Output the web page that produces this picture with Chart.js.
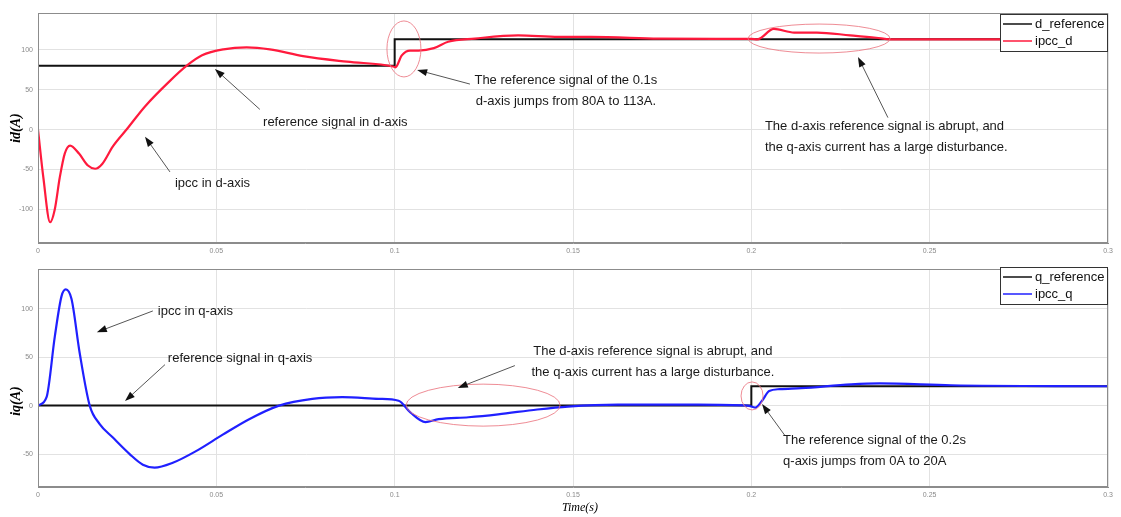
<!DOCTYPE html>
<html>
<head>
<meta charset="utf-8">
<script src="https://cdn.jsdelivr.net/npm/chart.js@4.4.0/dist/chart.umd.min.js"></script>
<style>
  html, body { margin: 0; padding: 0; background: #fff; }
  #wrap { position: relative; width: 1121px; height: 517px; }
  #topBox { position: absolute; left: 0; top: 0; }
  #botBox { position: absolute; left: 0; top: 258px; }
</style>
</head>
<body>
<div id="wrap">
  <div id="topBox"><canvas id="cTop" width="1121" height="258"></canvas></div>
  <div id="botBox"><canvas id="cBot" width="1121" height="259"></canvas></div>
</div>
<script>
// ---- data ----
const xTicks = [0, 0.05, 0.1, 0.15, 0.2, 0.25, 0.3];
const xTickLabels = ["0", "0.05", "0.1", "0.15", "0.2", "0.25", "0.3"];
const yTicksD = [-100, -50, 0, 50, 100];
const yTicksQ = [-50, 0, 50, 100];

// d-axis
const dRefTime = [0, 0.1, 0.1, 0.3];
const dRefValue = [80, 80, 113, 113];
const ipccDTime = [0, 0.0015, 0.0034, 0.0047, 0.0061, 0.0075, 0.009, 0.0115, 0.014, 0.016,
  0.018, 0.021, 0.025, 0.030, 0.037, 0.0417, 0.046, 0.052, 0.0585, 0.065, 0.0743, 0.0866,
  0.0996, 0.1002, 0.102, 0.1043, 0.1067, 0.111, 0.115, 0.1225, 0.1346, 0.146, 0.155, 0.174,
  0.19, 0.2, 0.2017, 0.2063, 0.212, 0.2184, 0.2277, 0.235, 0.239, 0.26, 0.3];
const ipccDValue = [0, -60, -116, -100, -60, -30, -20, -30, -45, -49,
  -43, -21, 1, 29, 61, 80, 93, 100.5, 103, 100.5, 92, 85,
  79, 78, 93, 99, 99, 102, 110, 114, 118, 116, 116, 114,
  113.5, 113.5, 113, 126, 121.5, 121.5, 118, 115, 113, 113, 113];

// q-axis
const qRefTime = [0, 0.2, 0.2, 0.3];
const qRefValue = [0, 0, 20, 20];
const ipccQTime = [0, 0.0024, 0.0047, 0.0066, 0.0078, 0.0094, 0.0117, 0.0145, 0.0173, 0.021,
  0.0257, 0.0294, 0.0327, 0.0378, 0.0443, 0.0518, 0.0592, 0.0676, 0.0769, 0.0853, 0.0955,
  0.1011, 0.1044, 0.1086, 0.1123, 0.1207, 0.129, 0.14, 0.1486, 0.1626, 0.185, 0.199,
  0.2011, 0.203, 0.205, 0.208, 0.214, 0.228, 0.236, 0.256, 0.3];
const ipccQValue = [0, 8.7, 71, 113, 120, 110, 54, 0, -19, -33,
  -50, -61, -64, -59, -47, -30, -14, 0, 7, 8.7, 7,
  5, -7, -17, -14, -12, -9, -4, -1, 1, 1, 0,
  -2, 5, 15, 17, 18, 22, 23, 21, 20];

const toPoints = (xs, ys) => xs.map((x, i) => ({ x: x, y: ys[i] }));

// ---- annotations (anchored in data units) ----
const notesD = [
  { t: 0.148, v: 62, lines: ["The reference signal of the 0.1s", "d-axis jumps from 80A to 113A."], align: "center" },
  { t: 0.0631, v: 9, lines: ["reference signal in d-axis"], align: "left" },
  { t: 0.0384, v: -68, lines: ["ipcc in d-axis"], align: "left" },
  { t: 0.2038, v: 4, lines: ["The d-axis reference signal is abrupt, and", "the q-axis current has a large disturbance."], align: "left" },
];
const arrowsD = [
  { from: [0.1211, 57], to: [0.1063, 74.7] },
  { from: [0.0622, 25.3], to: [0.0496, 76] },
  { from: [0.037, -53], to: [0.030, -8.9] },
  { from: [0.2383, 15], to: [0.2299, 91] },
];
const ellipsesD = [
  { t: 0.1026, v: 101, rx: 17, ry: 28 },
  { t: 0.219, v: 114, rx: 71, ry: 14.5 },
];

const notesQ = [
  { t: 0.0336, v: 96.7, lines: ["ipcc in q-axis"], align: "left" },
  { t: 0.0364, v: 48.6, lines: ["reference signal in q-axis"], align: "left" },
  { t: 0.1724, v: 56, lines: ["The d-axis reference signal is abrupt, and", "the q-axis current has a large disturbance."], align: "center" },
  { t: 0.2089, v: -36, lines: ["The reference signal of the 0.2s", "q-axis jumps from 0A to 20A"], align: "left" },
];
const arrowsQ = [
  { from: [0.0322, 97.7], to: [0.0165, 75.8] },
  { from: [0.0356, 42.3], to: [0.0244, 4.7] },
  { from: [0.1337, 41.3], to: [0.1177, 18.3] },
  { from: [0.2094, -30.8], to: [0.203, 1.6] },
];
const ellipsesQ = [
  { t: 0.1248, v: 0.5, rx: 77, ry: 21 },
  { t: 0.2002, v: 10, rx: 11, ry: 14 },
];

// draws box, notes, arrows, ellipses, legend and axis titles
const decorPlugin = {
  id: "decor",
  afterDatasetsDraw(chart, args, opts) {
    const ctx = chart.ctx;
    const a = chart.chartArea;
    const xs = chart.scales.x;
    const ys = chart.scales.y;
    const px = (t) => xs.getPixelForValue(t);
    const py = (v) => ys.getPixelForValue(v);
    ctx.save();

    // axes box
    ctx.strokeStyle = "#8c8c8c";
    ctx.lineWidth = 1;
    ctx.strokeRect(a.left + 0.5, a.top + 0.5, a.width - 1, a.height - 1);

    // red ellipses
    ctx.strokeStyle = "rgba(235, 120, 130, 0.85)";
    ctx.lineWidth = 1;
    (opts.ellipses || []).forEach((e) => {
      ctx.beginPath();
      ctx.ellipse(px(e.t), py(e.v), e.rx, e.ry, 0, 0, Math.PI * 2);
      ctx.stroke();
    });

    // arrows
    (opts.arrows || []).forEach((ar) => {
      const x1 = px(ar.from[0]), y1 = py(ar.from[1]);
      const x2 = px(ar.to[0]), y2 = py(ar.to[1]);
      const ang = Math.atan2(y2 - y1, x2 - x1);
      const L = 10, W = 3.5;
      ctx.strokeStyle = "#555";
      ctx.lineWidth = 1;
      ctx.beginPath();
      ctx.moveTo(x1, y1);
      ctx.lineTo(x2 - Math.cos(ang) * L * 0.8, y2 - Math.sin(ang) * L * 0.8);
      ctx.stroke();
      ctx.fillStyle = "#111";
      ctx.beginPath();
      ctx.moveTo(x2, y2);
      ctx.lineTo(x2 - Math.cos(ang) * L - Math.sin(ang) * W, y2 - Math.sin(ang) * L + Math.cos(ang) * W);
      ctx.lineTo(x2 - Math.cos(ang) * L + Math.sin(ang) * W, y2 - Math.sin(ang) * L - Math.cos(ang) * W);
      ctx.closePath();
      ctx.fill();
    });

    // notes
    ctx.font = "13px 'Liberation Sans', Arial, sans-serif";
    ctx.fillStyle = "#1a1a1a";
    ctx.textBaseline = "middle";
    (opts.notes || []).forEach((n) => {
      ctx.textAlign = n.align;
      n.lines.forEach((line, i) => {
        ctx.fillText(line, px(n.t), py(n.v) + i * 21);
      });
    });

    // legend
    const lg = opts.legend;
    const bx = a.right - lg.w, by = a.top + lg.dy;
    ctx.fillStyle = "#fff";
    ctx.fillRect(bx, by, lg.w, lg.h);
    ctx.strokeStyle = "#333";
    ctx.lineWidth = 1;
    ctx.strokeRect(bx + 0.5, by + 0.5, lg.w - 1, lg.h - 1);
    ctx.font = "13px 'Liberation Sans', Arial, sans-serif";
    ctx.textAlign = "left";
    chart.data.datasets.forEach((ds, i) => {
      const yy = by + 10 + i * 17;
      ctx.strokeStyle = ds.borderColor;
      ctx.lineWidth = 1.5;
      ctx.beginPath();
      ctx.moveTo(bx + 3, yy);
      ctx.lineTo(bx + 32, yy);
      ctx.stroke();
      ctx.fillStyle = "#111";
      ctx.fillText(ds.label, bx + 35, yy);
    });

    // y axis title
    ctx.save();
    ctx.translate(16, opts.yTitleY);
    ctx.rotate(-Math.PI / 2);
    ctx.font = "bold italic 14px 'Liberation Serif', 'Times New Roman', serif";
    ctx.fillStyle = "#000";
    ctx.textAlign = "center";
    ctx.fillText(opts.yTitle, 0, 0);
    ctx.restore();

    // x axis title
    if (opts.xTitle) {
      ctx.font = "italic 12px 'Liberation Serif', 'Times New Roman', serif";
      ctx.fillStyle = "#000";
      ctx.textAlign = "center";
      ctx.fillText(opts.xTitle, (a.left + a.right) / 2 + 7, opts.xTitleY);
    }
    ctx.restore();
  },
};

function makeChart(canvas, cfg) {
  return new Chart(canvas.getContext("2d"), {
    type: "line",
    data: {
      datasets: [
        {
          label: cfg.refLabel,
          data: toPoints(cfg.refTime, cfg.refValue),
          borderColor: "#111111",
          borderWidth: 2,
          pointRadius: 0,
          tension: 0,
          order: 2,
        },
        {
          label: cfg.ipccLabel,
          data: toPoints(cfg.ipccTime, cfg.ipccValue),
          borderColor: cfg.ipccColor,
          borderWidth: 2.2,
          pointRadius: 0,
          cubicInterpolationMode: "monotone",
          order: 1,
        },
      ],
    },
    options: {
      responsive: false,
      animation: false,
      layout: { padding: { left: 0, right: 13, top: cfg.padTop, bottom: 0 } },
      plugins: {
        legend: { display: false },
        tooltip: { enabled: false },
        decor: {
          notes: cfg.notes,
          arrows: cfg.arrows,
          ellipses: cfg.ellipses,
          legend: { w: 108, h: 38, dy: cfg.legendDy },
          yTitle: cfg.yTitle,
          yTitleY: cfg.yTitleY,
          xTitle: cfg.xTitle,
          xTitleY: cfg.xTitleY,
        },
      },
      scales: {
        x: {
          type: "linear",
          min: 0,
          max: 0.3,
          afterBuildTicks: (s) => { s.ticks = xTicks.map((v) => ({ value: v })); },
          afterFit: (s) => { s.height = cfg.xAxisH; },
          ticks: {
            callback: (v) => xTickLabels[xTicks.indexOf(v)] ?? "",
            font: { size: 7, family: "'Liberation Sans', Arial, sans-serif" },
            color: "#8a8a8a",
            padding: 4,
            maxRotation: 0,
          },
          grid: { color: "#e2e2e2", drawTicks: false },
          border: { color: "#8c8c8c" },
        },
        y: {
          min: cfg.yMin,
          max: cfg.yMax,
          afterBuildTicks: (s) => { s.ticks = cfg.yTicks.map((v) => ({ value: v })); },
          afterFit: (s) => { s.width = 38; },
          ticks: {
            font: { size: 7, family: "'Liberation Sans', Arial, sans-serif" },
            color: "#8a8a8a",
            padding: 5,
          },
          grid: { color: "#e2e2e2", drawTicks: false },
          border: { color: "#8c8c8c" },
        },
      },
    },
    plugins: [decorPlugin],
  });
}

makeChart(document.getElementById("cTop"), {
  refLabel: "d_reference", refTime: dRefTime, refValue: dRefValue,
  ipccLabel: "ipcc_d", ipccTime: ipccDTime, ipccValue: ipccDValue, ipccColor: "#ff1a3d",
  yMin: -142, yMax: 146, yTicks: yTicksD, padTop: 13, xAxisH: 15, legendDy: 1,
  notes: notesD, arrows: arrowsD, ellipses: ellipsesD,
  yTitle: "id(A)", yTitleY: 128,
});

makeChart(document.getElementById("cBot"), {
  refLabel: "q_reference", refTime: qRefTime, refValue: qRefValue,
  ipccLabel: "ipcc_q", ipccTime: ipccQTime, ipccValue: ipccQValue, ipccColor: "#2020ff",
  yMin: -84, yMax: 141, yTicks: yTicksQ, padTop: 11, xAxisH: 30, legendDy: -2,
  notes: notesQ, arrows: arrowsQ, ellipses: ellipsesQ,
  yTitle: "iq(A)", yTitleY: 143,
  xTitle: "Time(s)", xTitleY: 250,
});
</script>
</body>
</html>
